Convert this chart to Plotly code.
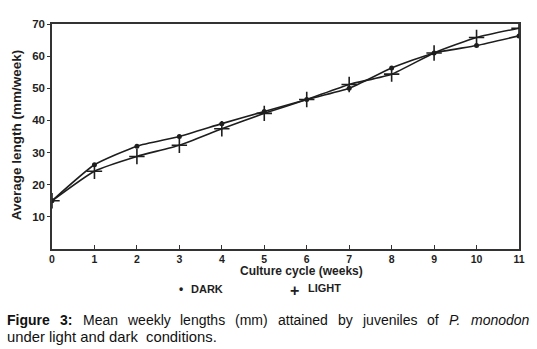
import plotly.graph_objects as go

weeks = [0, 1, 2, 3, 4, 5, 6, 7, 8, 9, 10, 11]
dark = [15, 26.2, 32, 35, 39, 42.8, 46.5, 50, 56.3, 61, 63.3, 66.3]
light = [15, 24.2, 28.8, 32.3, 37.4, 42.2, 46.5, 51.2, 54.4, 61, 65.8, 68.7]
x_ticks = list(range(0, 12))
y_ticks = [10, 20, 30, 40, 50, 60, 70]

W, H = 537, 349
L, R, T, B = 52, 14, 24, 100
pw, ph = W - L - R, H - T - B

def px(x):
    return (x - L) / pw

def py(y):
    return (H - B - y) / ph

ink = "#1e1e1e"
font_fam = "Liberation Sans, Arial, sans-serif"

fig = go.Figure()
fig.add_trace(go.Scatter(
    x=weeks, y=dark, mode="lines+markers", name="DARK",
    line=dict(color=ink, width=1.6, shape="spline", smoothing=0.5),
    marker=dict(symbol="circle", size=5, color=ink),
    showlegend=False))
fig.add_trace(go.Scatter(
    x=weeks, y=light, mode="lines+markers", name="LIGHT",
    line=dict(color=ink, width=1.6, shape="spline", smoothing=0.5),
    marker=dict(symbol="cross-thin", size=11, color=ink, line=dict(width=1.6, color=ink)),
    showlegend=False))

fig.update_xaxes(
    range=[0, 11], tickvals=x_ticks, ticktext=[str(v) for v in x_ticks],
    showline=True, linecolor="#333", linewidth=1.5, mirror=True,
    ticks="inside", ticklen=4, tickwidth=1.2, tickcolor="#333",
    showgrid=False, zeroline=False,
    tickfont=dict(family=font_fam, size=10.5, color=ink, weight="bold"),
)
fig.update_yaxes(
    range=[0, 70], tickvals=y_ticks, ticktext=[str(v) for v in y_ticks],
    showline=True, linecolor="#333", linewidth=1.5, mirror=True,
    ticks="outside", ticklen=3, tickwidth=1.2, tickcolor="#333",
    showgrid=False, zeroline=False,
    tickfont=dict(family=font_fam, size=11.5, color=ink, weight="bold"),
)

ann = []
# axis titles
ann.append(dict(x=px(304), y=py(271), xref="paper", yref="paper",
                text="<b>Culture cycle (weeks)</b>", showarrow=False,
                xanchor="center", yanchor="middle", borderpad=0,
                font=dict(family=font_fam, size=12, color=ink)))
ann.append(dict(x=px(16), y=py(135), xref="paper", yref="paper",
                text="<b>Average length (mm/week)</b>", showarrow=False, textangle=-90,
                xanchor="center", yanchor="middle",
                font=dict(family=font_fam, size=13.5, color=ink)))
# legend keys
ann.append(dict(x=px(182), y=py(289), xref="paper", yref="paper",
                text="<b>•</b>", showarrow=False, xanchor="center", yanchor="middle",
                font=dict(family=font_fam, size=12, color=ink)))
ann.append(dict(x=px(190), y=py(289), xref="paper", yref="paper",
                text="<b>DARK</b>", showarrow=False, xanchor="left", yanchor="middle",
                font=dict(family=font_fam, size=11, color=ink)))
ann.append(dict(x=px(297), y=py(290), xref="paper", yref="paper",
                text="<b>+</b>", showarrow=False, xanchor="center", yanchor="middle",
                font=dict(family=font_fam, size=16, color=ink)))
ann.append(dict(x=px(308), y=py(288), xref="paper", yref="paper",
                text="<b>LIGHT</b>", showarrow=False, xanchor="left", yanchor="middle",
                font=dict(family=font_fam, size=11, color=ink)))

# caption (justified first line, placed word by word)
cap_words = [("<b>Figure</b>", 6), ("<b>3:</b>", 59), ("Mean", 82), ("weekly", 127),
             ("lengths", 180), ("(mm)", 236), ("attained", 279), ("by", 339),
             ("juveniles", 364), ("of", 429), ("<i>P.</i>", 451), ("<i>monodon</i>", 474)]
for w, xpos in cap_words:
    ann.append(dict(x=px(xpos), y=py(320), xref="paper", yref="paper", text=w,
                    showarrow=False, xanchor="left", yanchor="middle", borderpad=0,
                    font=dict(family=font_fam, size=14, color="#111")))
ann.append(dict(x=px(6), y=py(337), xref="paper", yref="paper",
                text="under light and dark&nbsp; conditions.", showarrow=False,
                xanchor="left", yanchor="middle", borderpad=0,
                font=dict(family=font_fam, size=14.8, color="#111")))

fig.update_layout(
    width=W, height=H, margin=dict(l=L, r=R, t=T, b=B),
    paper_bgcolor="white", plot_bgcolor="white",
    annotations=ann, showlegend=False,
)
fig.write_html("out.html", config={"displayModeBar": False},
               post_script="document.body.style.margin='0px';")
